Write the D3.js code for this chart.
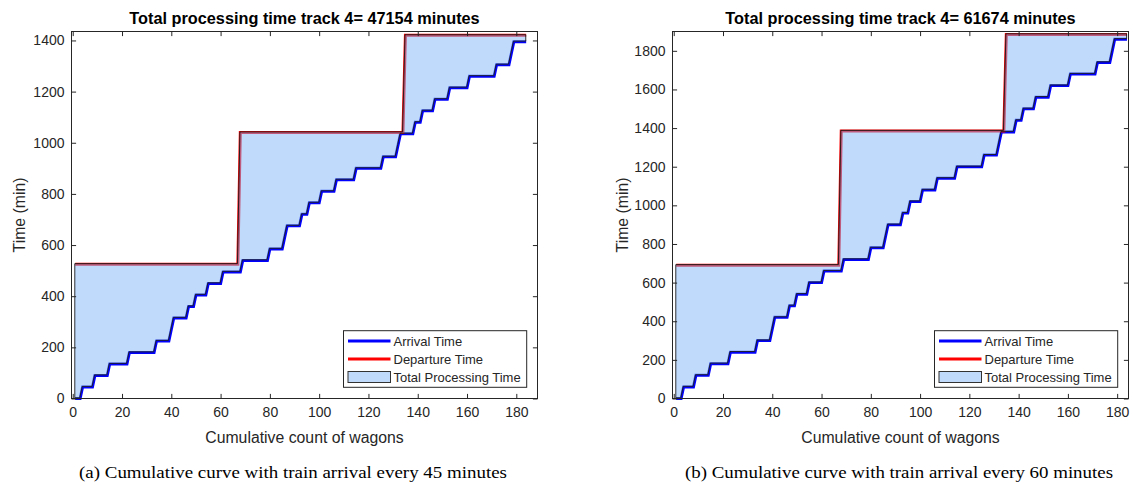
<!DOCTYPE html>
<html>
<head>
<meta charset="utf-8">
<script src="https://cdn.jsdelivr.net/npm/d3@7"></script>
<style>
  html, body { margin: 0; padding: 0; background: #fff; }
  svg { display: block; }
</style>
</head>
<body>
<svg id="chart" width="1133" height="486"></svg>
<script>
// ---------------- data ----------------
// wagons carried by each arriving train (32 trains)
const wagonsPerTrain = [3, 5, 6, 8, 11, 6, 1, 6, 3, 5, 6, 8, 11, 6, 1, 6, 3, 5, 6, 8, 11, 6, 1, 6, 3, 5, 6, 8, 11, 6, 1, 6];
// train arrival times (min), panel (a): every 45 minutes
const arrivalTimesA = [0, 45, 90, 135, 180, 225, 270, 315, 360, 405, 450, 495, 540, 585, 630, 675, 720, 765, 810, 855, 900, 945, 990, 1035, 1080, 1125, 1170, 1215, 1260, 1305, 1350, 1395];
// train arrival times (min), panel (b): every 60 minutes
const arrivalTimesB = [0, 60, 120, 180, 240, 300, 360, 420, 480, 540, 600, 660, 720, 780, 840, 900, 960, 1020, 1080, 1140, 1200, 1260, 1320, 1380, 1440, 1500, 1560, 1620, 1680, 1740, 1800, 1860];
// departures: last cumulative wagon of each departing train, and its time
const departureLastWagon = [67, 134, 184];
const departureTimesA = [525, 1040, 1420];
const departureTimesB = [690, 1385, 1885];
const totalsText = ["47154", "61674"];
const xTicks = [0, 20, 40, 60, 80, 100, 120, 140, 160, 180];
const yTicksA = [0, 200, 400, 600, 800, 1000, 1200, 1400];
const yTicksB = [0, 200, 400, 600, 800, 1000, 1200, 1400, 1600, 1800];
const legendLabels = ["Arrival Time", "Departure Time", "Total Processing Time"];
const captions = ["(a) Cumulative curve with train arrival every 45 minutes",
                  "(b) Cumulative curve with train arrival every 60 minutes"];

// ---------------- helpers ----------------
function arrivalCurve(times) {
  const pts = [];
  let cum = 0;
  wagonsPerTrain.forEach((n, k) => {
    const s = cum + 1;
    cum += n;
    pts.push([s, times[k]]);
    if (cum !== s) pts.push([cum, times[k]]);
  });
  return pts;
}
function departureCurve(times) {
  const pts = [];
  let prev = 0;
  departureLastWagon.forEach((e, k) => {
    pts.push([prev + 1, times[k]]);
    pts.push([e, times[k]]);
    prev = e;
  });
  return pts;
}

const svg = d3.select("#chart");
const AX = "#262626";
const SANS = "'Liberation Sans', Arial, Helvetica, sans-serif";

function drawPanel(cfg) {
  const {x0, x1, y0, y1, xMax, yMax, yTicks, arrTimes, depTimes, total, caption, capX, ylabX} = cfg;
  const x = d3.scaleLinear().domain([-0.5, xMax]).range([x0, x1]);
  const y = d3.scaleLinear().domain([0, yMax]).range([y1, y0]);
  const g = svg.append("g");

  const arr = arrivalCurve(arrTimes);
  const dep = departureCurve(depTimes);
  const line = d3.line().x(d => x(d[0])).y(d => y(d[1]));

  // lines
  g.append("path").attr("d", line(arr)).attr("fill", "none")
    .attr("stroke", "#0000ff").attr("stroke-width", 3).attr("stroke-linejoin", "miter");
  g.append("path").attr("d", line(dep)).attr("fill", "none")
    .attr("stroke", "#ff0000").attr("stroke-width", 3);

  // processing-time area on top (semi transparent)
  const poly = arr.concat(dep.slice().reverse());
  g.append("path").attr("d", line(poly) + "Z")
    .attr("fill", "rgb(128,181,247)").attr("fill-opacity", 0.5)
    .attr("stroke", "#1a1a1a").attr("stroke-width", 0.9)
    .attr("transform", "translate(-0.4,-0.6)");

  // box
  g.append("rect").attr("x", x0).attr("y", y0).attr("width", x1 - x0).attr("height", y1 - y0)
    .attr("fill", "none").attr("stroke", AX).attr("stroke-width", 1);

  // axes (ticks inside, mirrored)
  const tl = 4.6;
  const fmt = d3.format("d");
  const xb = g.append("g").attr("transform", `translate(0,${y1})`)
    .call(d3.axisBottom(x).tickValues(xTicks).tickFormat(fmt).tickSizeInner(-tl).tickSizeOuter(0).tickPadding(8.5));
  const xt = g.append("g").attr("transform", `translate(0,${y0})`)
    .call(d3.axisTop(x).tickValues(xTicks).tickSizeInner(-tl).tickSizeOuter(0).tickFormat(""));
  const yl = g.append("g").attr("transform", `translate(${x0},0)`)
    .call(d3.axisLeft(y).tickValues(yTicks).tickFormat(fmt).tickSizeInner(-tl).tickSizeOuter(0).tickPadding(7));
  const yr = g.append("g").attr("transform", `translate(${x1},0)`)
    .call(d3.axisRight(y).tickValues(yTicks).tickSizeInner(-tl).tickSizeOuter(0).tickFormat(""));
  [xb, xt, yl, yr].forEach(a => {
    a.select(".domain").remove();
    a.selectAll("line").attr("stroke", AX);
    a.selectAll("text").attr("fill", AX).style("font-family", SANS).style("font-size", "14px");
  });

  // title
  g.append("text").attr("x", (x0 + x1) / 2).attr("y", 23.5).attr("text-anchor", "middle")
    .style("font-family", SANS).style("font-size", "16.3px").style("font-weight", "bold")
    .attr("fill", "#000").text(`Total processing time track 4= ${total} minutes`);
  // axis labels
  g.append("text").attr("x", (x0 + x1) / 2).attr("y", 443).attr("text-anchor", "middle")
    .style("font-family", SANS).style("font-size", "15.8px").attr("fill", AX)
    .text("Cumulative count of wagons");
  g.append("text").attr("transform", `translate(${ylabX},${(y0 + y1) / 2}) rotate(-90)`)
    .attr("text-anchor", "middle").attr("dy", "0.35em")
    .style("font-family", SANS).style("font-size", "15.8px").attr("fill", AX)
    .text("Time (min)");
  // caption
  g.append("text").attr("x", capX).attr("y", 478).attr("text-anchor", "middle")
    .attr("textLength", 428).attr("lengthAdjust", "spacingAndGlyphs")
    .style("font-family", "'Liberation Serif', 'Times New Roman', serif").style("font-size", "16.5px")
    .attr("fill", "#000").text(caption);

  // legend
  const lx0 = x1 - 194, lx1 = x1 - 10.8, ly0 = 330.7, ly1 = 387.3;
  const lg = g.append("g");
  lg.append("rect").attr("x", lx0).attr("y", ly0).attr("width", lx1 - lx0).attr("height", ly1 - ly0)
    .attr("fill", "#fff").attr("stroke", AX).attr("stroke-width", 1);
  const rows = [341, 359, 377];
  lg.append("line").attr("x1", lx0 + 4.5).attr("x2", lx0 + 47).attr("y1", rows[0]).attr("y2", rows[0])
    .attr("stroke", "#0000ff").attr("stroke-width", 3);
  lg.append("line").attr("x1", lx0 + 4.5).attr("x2", lx0 + 47).attr("y1", rows[1]).attr("y2", rows[1])
    .attr("stroke", "#ff0000").attr("stroke-width", 3);
  lg.append("rect").attr("x", lx0 + 4.5).attr("y", rows[2] - 5.5).attr("width", 42.5).attr("height", 11)
    .attr("fill", "rgb(128,181,247)").attr("fill-opacity", 0.5).attr("stroke", "#333").attr("stroke-width", 1);
  legendLabels.forEach((t, i) => {
    lg.append("text").attr("x", lx0 + 50).attr("y", rows[i]).attr("dy", "0.35em")
      .style("font-family", SANS).style("font-size", "13px").attr("fill", AX).text(t);
  });
}

drawPanel({x0: 71.5, x1: 537.5, y0: 31.5, y1: 398.5, xMax: 188.6, yMax: 1435,
  yTicks: yTicksA, arrTimes: arrivalTimesA, depTimes: departureTimesA,
  total: totalsText[0], caption: captions[0], capX: 293, ylabX: 19});
drawPanel({x0: 672.5, x1: 1128.5, y0: 31.5, y1: 398.5, xMax: 184.6, yMax: 1900,
  yTicks: yTicksB, arrTimes: arrivalTimesB, depTimes: departureTimesB,
  total: totalsText[1], caption: captions[1], capX: 899, ylabX: 622});
</script>
</body>
</html>
